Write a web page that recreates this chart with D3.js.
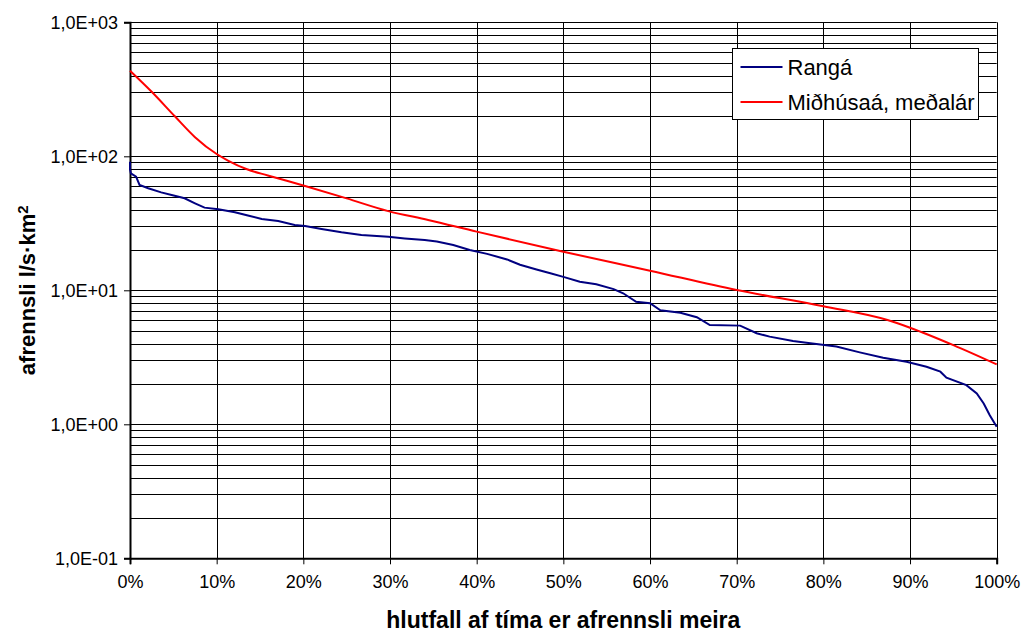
<!DOCTYPE html>
<html>
<head>
<meta charset="utf-8">
<script src="https://cdn.jsdelivr.net/npm/d3@7"></script>
<style>
  body { margin: 0; background: white; }
  svg { display: block; }
</style>
</head>
<body>
<svg id="chart"></svg>
<script>
// hlutfall af tíma (%) og afrennsli l/s·km2, lesið af myndinni
let ranga_pct = [0, 0, 0.1, 0.7, 1.1, 2.1, 3.6, 4.8, 6.3, 7.5, 8.6, 10.2, 12.1, 13.6, 15.2, 17.1, 19, 20.2, 22.1, 24.4, 26.7, 29.8, 31.7, 34, 35.4, 37.3, 39.2, 41.2, 43.5, 45, 46.9, 48.5, 50, 51.9, 53.8, 55.8, 56.9, 58.4, 60, 61.2, 63.5, 65.4, 66.9, 70.4, 72.3, 73.8, 76.5, 78.5, 81.5, 84.2, 86.9, 89.6, 91.9, 93.5, 94.2, 96.5, 97.7, 98.5, 99.2, 100];
let ranga_val = [91, 80, 74.6, 70.5, 61.1, 57.7, 53.8, 51.4, 48.6, 44.6, 41.4, 40.2, 38.2, 36.1, 34.1, 32.9, 30.7, 30.2, 28.7, 27.1, 25.9, 25.1, 24.4, 23.7, 23.1, 21.8, 20.0, 18.7, 17.0, 15.5, 14.3, 13.4, 12.6, 11.6, 11.1, 10.2, 9.5, 8.2, 8.0, 7.1, 6.8, 6.3, 5.5, 5.45, 4.78, 4.51, 4.19, 4.03, 3.80, 3.44, 3.14, 2.93, 2.69, 2.47, 2.23, 1.96, 1.70, 1.43, 1.17, 0.96];

let midhusaa_pct = [0, 2.5, 5.2, 7.5, 10, 11.3, 13.5, 15.9, 20.2, 25, 29.8, 34.4, 40, 50, 60, 70, 80, 87.4, 90, 95, 100];
let midhusaa_val = [435, 303, 198, 139, 104, 93, 80, 72, 60, 48.5, 39, 33.5, 27.4, 19.4, 14, 10.05, 7.6, 6.0, 5.26, 3.9, 2.8];

let x_ticks = [0, 10, 20, 30, 40, 50, 60, 70, 80, 90, 100];
let y_ticks = [0.1, 1, 10, 100, 1000];

let series_names = ["Rangá", "Miðhúsaá, meðalár"];
let series_colors = ["#000080", "#ff0000"];

let width = 1023;
let height = 635;
let font_family = "'Liberation Sans', Arial, sans-serif";
let tick_font_size = 18;
let legend_font_size = 22;

let plot_left = 130, plot_right = 996.7, plot_top = 22.3, plot_bottom = 558.3;

let svg = d3.select("#chart")
    .attr("width", width)
    .attr("height", height)
    .style("background-color", "white");

let x = d3.scaleLinear().domain([0, 100]).range([plot_left, plot_right]);
let y = d3.scaleLog().domain([0.1, 1000]).range([plot_bottom, plot_top]);

function sciLabel(v) {
    let e = Math.round(Math.log10(v));
    let sign = e < 0 ? "-" : "+";
    return "1,0E" + sign + String(Math.abs(e)).padStart(2, "0");
}

// horizontal gridlines, 1..9 in each decade
let grid_values = [];
for (let d = -1; d < 3; d++) {
    for (let m = 1; m <= 9; m++) {
        grid_values.push(m * Math.pow(10, d));
    }
}
grid_values.push(1000);

svg.append("g")
    .selectAll("line")
    .data(grid_values)
    .join("line")
    .attr("x1", plot_left)
    .attr("x2", plot_right)
    .attr("y1", d => Math.round(y(d)) + 0.5)
    .attr("y2", d => Math.round(y(d)) + 0.5)
    .attr("stroke", "#000")
    .attr("stroke-width", 1);

svg.append("g")
    .selectAll("line")
    .data(x_ticks)
    .join("line")
    .attr("x1", d => Math.round(x(d)) + 0.5)
    .attr("x2", d => Math.round(x(d)) + 0.5)
    .attr("y1", plot_top)
    .attr("y2", plot_bottom)
    .attr("stroke", "#000")
    .attr("stroke-width", 1);

// axes
let yAxis = d3.axisLeft(y)
    .tickValues(y_ticks)
    .tickFormat(sciLabel)
    .tickSize(6)
    .tickPadding(6);

let gy = svg.append("g")
    .attr("transform", "translate(" + plot_left + ",0)")
    .call(yAxis);
gy.select(".domain").attr("stroke-width", 2);

let xAxis = d3.axisBottom(x)
    .tickValues(x_ticks)
    .tickFormat(d => d + "%")
    .tickSize(6)
    .tickPadding(11);

let gx = svg.append("g")
    .attr("transform", "translate(0," + plot_bottom + ")")
    .call(xAxis);
gx.select(".domain").attr("stroke-width", 2);

svg.selectAll(".tick text")
    .attr("font-family", font_family)
    .attr("font-size", tick_font_size + "px")
    .attr("fill", "#000");
svg.selectAll(".tick line").attr("stroke", "#000");

// lines
let line = d3.line()
    .x(d => x(d[0]))
    .y(d => y(d[1]));

let data_ranga = d3.zip(ranga_pct, ranga_val);
let data_midhusaa = d3.zip(midhusaa_pct, midhusaa_val);

svg.append("path")
    .datum(data_midhusaa)
    .attr("fill", "none")
    .attr("stroke", series_colors[1])
    .attr("stroke-width", 2)
    .attr("d", line.curve(d3.curveMonotoneX));

svg.append("path")
    .datum(data_ranga)
    .attr("fill", "none")
    .attr("stroke", series_colors[0])
    .attr("stroke-width", 2)
    .attr("d", line.curve(d3.curveLinear));

// axis titles
svg.append("text")
    .attr("x", (plot_left + plot_right) / 2)
    .attr("y", 628)
    .attr("text-anchor", "middle")
    .attr("font-family", font_family)
    .attr("font-size", "23px")
    .style("font-weight", "bold")
    .text("hlutfall af tíma er afrennsli meira");

let ytitle = svg.append("text")
    .attr("transform", "translate(35," + (plot_top + plot_bottom) / 2 + ") rotate(-90)")
    .attr("text-anchor", "middle")
    .attr("font-family", font_family)
    .attr("font-size", "22px")
    .style("font-weight", "bold");
ytitle.append("tspan").text("afrennsli l/s·km");
ytitle.append("tspan").attr("dy", "-0.45em").attr("font-size", "15px").text("2");

// legend
let legend = svg.append("g").attr("transform", "translate(732.5,48.5)");
legend.append("rect")
    .attr("width", 246)
    .attr("height", 71)
    .attr("fill", "white")
    .attr("stroke", "#000")
    .attr("stroke-width", 1);

series_names.forEach((name, i) => {
    let ly = 18.5 + i * 35;
    legend.append("line")
        .attr("x1", 8)
        .attr("x2", 50)
        .attr("y1", ly)
        .attr("y2", ly)
        .attr("stroke", series_colors[i])
        .attr("stroke-width", 2);
    legend.append("text")
        .attr("x", 55)
        .attr("y", ly)
        .attr("dy", "0.35em")
        .attr("font-family", font_family)
        .attr("font-size", legend_font_size + "px")
        .text(name);
});
</script>
</body>
</html>
